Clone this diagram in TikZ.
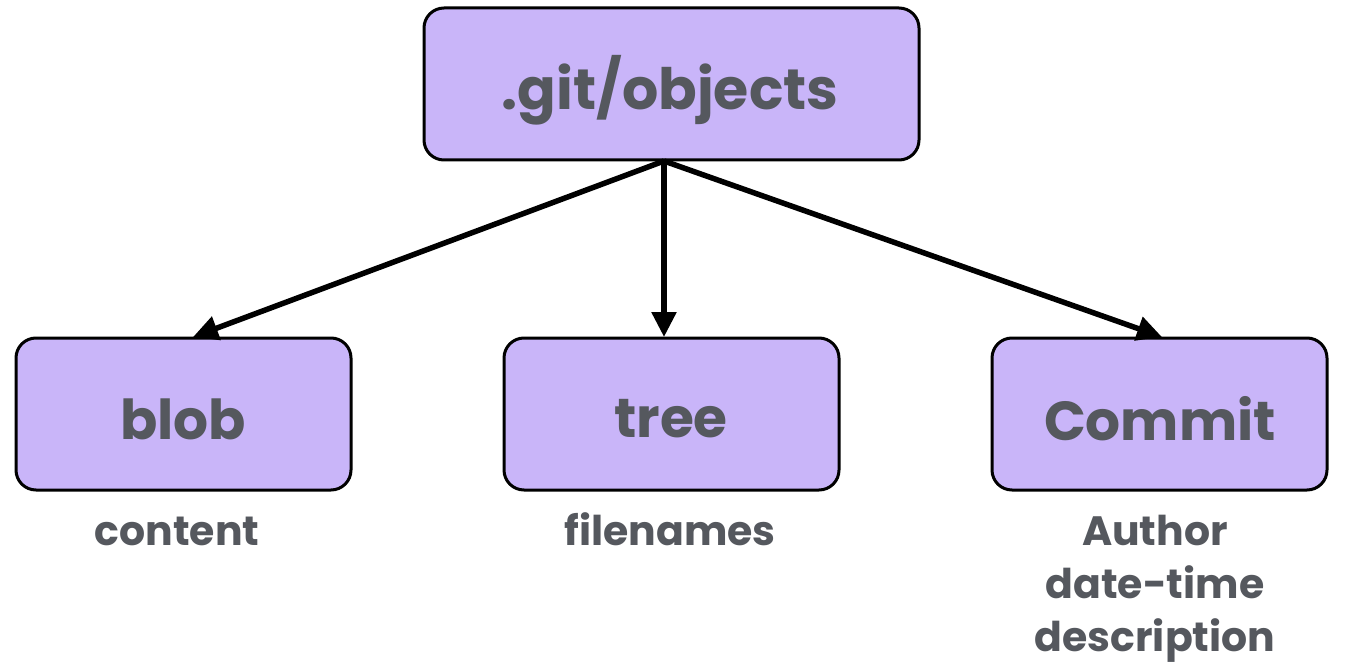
\documentclass[tikz,border=0pt]{standalone}
\usepackage{fontspec}
\setmainfont{Poppins}
\usetikzlibrary{arrows.meta}
\definecolor{boxfill}{HTML}{C9B5F9}
\definecolor{txt}{HTML}{55585E}
\begin{document}
\begin{tikzpicture}[x=1pt,y=-1pt,
  obox/.style={draw=black,line width=3pt,fill=boxfill,rounded corners=20pt,
    minimum width=335pt,minimum height=152pt,inner sep=0pt},
  otext/.style={text=txt,font=\bfseries\fontsize{55}{60}\selectfont},
  lbl/.style={text=txt,font=\bfseries\fontsize{41}{53}\selectfont,align=center,anchor=base,inner sep=0pt},
  conn/.style={line width=5.5pt,-{Triangle[length=25pt,width=24pt]}}]
\useasboundingbox (0,0) rectangle (1352,666);
\node[obox,minimum width=495pt] (obj) at (671.5,84) {};
\node[otext,font=\bfseries\fontsize{57}{60}\selectfont] (objt) at (670,90) {.git/objects};
\node[obox] (blob) at (183.5,414) {};
\node[obox] (tree) at (671.5,414) {};
\node[obox] (commit) at (1159.5,414) {};
\node[otext] (blobt) at (183,419) {blob};
\node[otext] (treet) at (671,419) {tree};
\node[otext] (committ) at (1160,419) {Commit};
\coordinate (src) at (664,161);
\draw[conn] (src) -- (193,337);
\draw[conn] (src) -- (664,337);
\draw[conn] (src) -- (1162,337);
\node[lbl] (l1) at (177,545) {content};
\node[lbl] (l2) at (670,545) {filenames};
\node[lbl] (l3) at (1155,651) {Author\\date-time\\description};
\end{tikzpicture}
\end{document}
